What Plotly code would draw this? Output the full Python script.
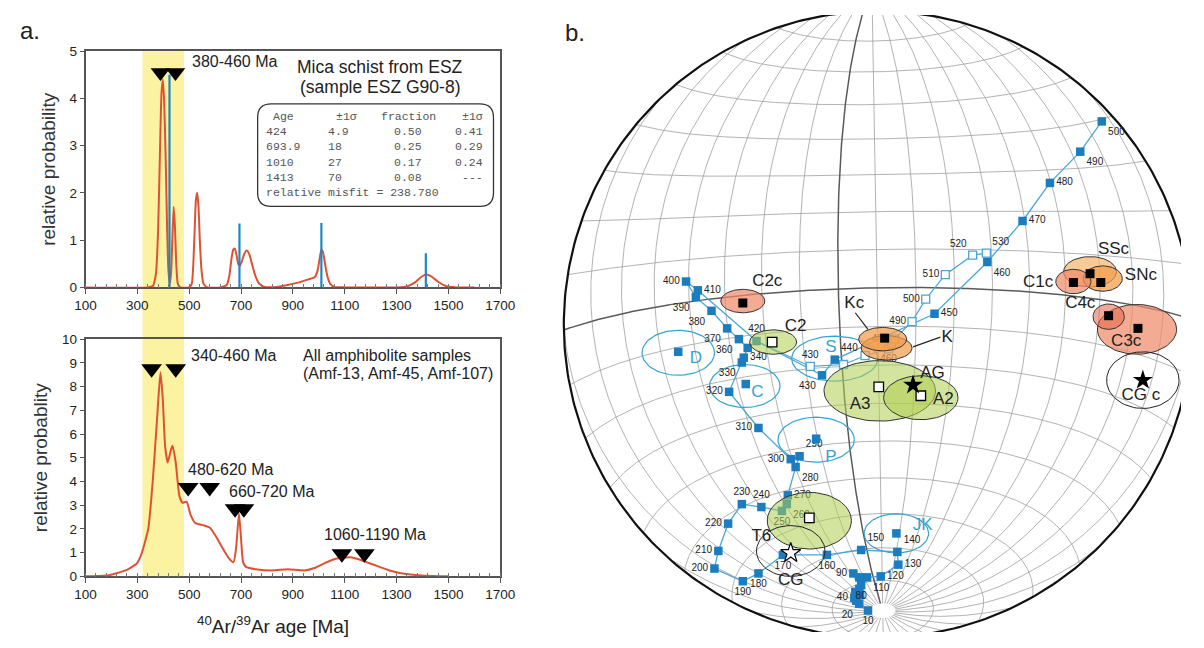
import numpy as np
import plotly.graph_objects as go

FONT = "Liberation Sans, Arial, sans-serif"
MONO = "Liberation Mono, Courier New, monospace"

# ---------------- panel a, top: mica schist ----------------
mica_age = [100, 340, 360, 372, 380, 387, 393, 398, 403, 409, 415, 420, 425, 430, 435, 440, 445, 450, 456, 465,
            500, 510, 516, 521, 526, 531, 536, 541, 547, 555, 570, 620, 645, 655, 663, 670, 676, 682, 689, 695,
            703, 712, 722, 732, 742, 755, 770, 790, 840, 880, 920, 960, 985, 995, 1003, 1010, 1016, 1024, 1034,
            1045, 1060, 1100, 1300, 1340, 1370, 1395, 1415, 1435, 1460, 1490, 1530, 1600]
mica_prob = [0, 0, 0.03, 0.3, 1.2, 2.8, 4.1, 4.4, 4.0, 2.8, 1.2, 0.35, 0.08, 0.3, 1.0, 1.7, 1.3, 0.5, 0.08, 0,
             0, 0.08, 0.5, 1.2, 1.85, 2.0, 1.7, 1.0, 0.4, 0.08, 0, 0, 0.05, 0.25, 0.6, 0.8, 0.82, 0.7, 0.5, 0.45,
             0.55, 0.7, 0.78, 0.7, 0.5, 0.25, 0.08, 0.01, 0.01, 0.05, 0.1, 0.17, 0.22, 0.35, 0.6, 0.8, 0.75, 0.5,
             0.22, 0.07, 0.01, 0, 0, 0.02, 0.1, 0.22, 0.27, 0.23, 0.12, 0.03, 0, 0]
mix_age = [424, 693.9, 1010, 1413]
mix_prob = [4.5, 1.35, 1.36, 0.72]
tab_age = ["424", "693.9", "1010", "1413"]
tab_err = ["4.9", "18", "27", "70"]
tab_frac = ["0.50", "0.25", "0.17", "0.08"]
tab_frac_err = ["0.41", "0.29", "0.24", "---"]
misfit = "238.780"
mica_tri_age = [389, 447]
mica_tri_level = [4.55, 4.55]

# ---------------- panel a, bottom: amphibolites ----------------
amph_age = [100, 190, 254, 297, 316, 342, 360, 377, 389, 398, 407, 417, 430, 436, 448, 462, 474, 490, 505, 523,
            556, 580, 605, 631, 654, 671, 681, 692, 700, 708, 719, 757, 820, 881, 945, 983, 1021, 1070, 1122,
            1172, 1222, 1273, 1323, 1398, 1500]
amph_prob = [0.0, 0.05, 0.25, 0.53, 0.95, 2.0, 4.1, 6.8, 8.6, 7.5, 5.5, 4.8, 5.35, 5.5, 4.8, 3.4, 3.1, 3.15, 2.6,
             2.25, 2.15, 2.05, 1.65, 1.15, 0.75, 0.6, 1.2, 2.65, 1.6, 0.6, 0.4, 0.3, 0.25, 0.3, 0.25, 0.35, 0.55,
             0.75, 0.8, 0.65, 0.45, 0.25, 0.12, 0.04, 0.0]
amph_tri_age = [355, 448, 496, 579, 677, 711, 1089, 1176]
amph_tri_level = [8.75, 8.75, 3.75, 3.75, 2.85, 2.85, 0.95, 0.95]
amph_range_text = ["340-460 Ma", "480-620 Ma", "660-720 Ma", "1060-1190 Ma"]
amph_range_x = [500, 489, 647, 1013]
amph_range_y = [9.3, 4.49, 3.58, 1.77]
band = [320, 480]

# ---------------- panel b: projected poles (net radius = 321 units, centre = 0,0) ----------------
R_NET = 321
PHI0 = 9.5     # latitude of projection centre
ROLL = 1.0

apwp_age = list(range(10, 510, 10))
apwp_x = [-10, -19, -22, -24, -18, -23, -19, -17, -25, -19, -11, 3, 21, 20, -17, -52, -97, -122, -138, -167,
          -163, -153, -139, -119, -98, -93, -92, -84, -80, -89, -122, -152, -139, -137, -133, -142, -154, -170,
          -186, -196, -184, -124, -57, -44, 58, 112, 148, 176, 207, 229]
apwp_y = [-293, -286, -283, -280, -277, -274, -271, -267, -255, -259, -259, -258, -246, -233, -231, -236, -236,
          -255, -263, -250, -232, -204, -184, -187, -191, -184, -175, -146, -135, -138, -106, -69, -39, -34, -24,
          -15, -4, 14, 28, 44, 35, -17, -52, -36, 11, 64, 106, 145, 177, 208]
apwp_hidden = {30, 50, 60, 70, 100, 350}
apwp_pos = {10: 'bottom center', 20: 'bottom left', 40: 'middle left', 80: 'bottom center', 90: 'middle left',
            110: 'bottom right', 120: 'middle right', 130: 'middle right', 140: 'top right', 150: 'top right',
            160: 'bottom center', 170: 'bottom center', 180: 'bottom center', 190: 'bottom center',
            200: 'middle left', 210: 'middle left', 220: 'middle left', 230: 'top center', 240: 'top center',
            250: 'bottom center', 260: 'bottom right', 270: 'middle right', 280: 'bottom right', 290: 'top right',
            300: 'middle left', 310: 'middle left', 320: 'middle left', 330: 'bottom left', 340: 'middle right',
            360: 'bottom left', 370: 'bottom left', 380: 'bottom left', 390: 'bottom left', 400: 'middle left',
            410: 'middle right', 420: 'top center', 430: 'bottom left', 440: 'top right', 450: 'middle right',
            460: 'bottom right', 470: 'middle right', 480: 'middle right', 490: 'bottom right', 500: 'bottom right'}

alt_age = [420, 430, 440, 450, 460, 470, 480, 490, 500, 510, 520, 530]
alt_x = [-124, -69, -35, -13, 11, 14, 17, 35, 49, 69, 97, 111]
alt_y = [-17, -43, -41, -32, -25, -20, -15, 3, 26, 51, 71, 73]
alt_shown = {430: 'top center', 460: 'bottom center', 480: 'middle left', 490: 'middle left', 500: 'middle left',
             510: 'middle left', 520: 'top left', 530: 'top right'}

ell_name = ['D', 'C', 'S', 'P', 'JK', 'SSc', 'SNc', 'C1c', 'C3c', 'C4c', 'K', 'Kc', 'C2c', 'C2', 'A3', 'A2',
            'T6', 'CGc', 'CG']
ell_x = [-204, -136, -44, -63, 19, 217, 230, 200, 265, 236, 9, 5, -138, -107, 2, 44, -70, 271, -89]
ell_y = [-29, -63, -35, -118, -214, 54, 47, 44, -5, 8, -24, -15, 24, -18, -68, -75, -201, -57, -232]
ell_a = [37, 36, 44, 39, 33, 27, 20, 18, 40.5, 16, 26, 24.5, 22.5, 24, 57, 38, 43, 37, 35]
ell_b = [23, 22, 23, 23, 20, 15.5, 13, 12.5, 25.5, 13, 12.5, 12, 12, 12.5, 31, 22.5, 29, 29, 26]
ell_kind = ['blue'] * 5 + ['lorange', 'orange', 'salmon', 'salmon', 'dsalmon', 'orange', 'orange', 'salmon',
                           'green', 'green', 'green', 'green', 'black', 'black']

mean_black_x = [-138, 7, 200, 217, 228, 236, 266]
mean_black_y = [22, -14, 43, 52, 43, 9, -4]
mean_white_x = [-108, 1, 44, -70]
mean_white_y = [-18, -64, -73, -198]
mean_blue_x = [-204, -135, -63, 19]
mean_blue_y = [-28, -61, -117, -214]
star_black_x = [36, 271]
star_black_y = [-62, -57]
star_white_x = [-89]
star_white_y = [-234]

lab_text = ['C2c', 'C2', 'Kc', 'K', 'A3', 'A2', 'AG', 'C1c', 'SSc', 'SNc', 'C4c', 'C3c', 'CG c', 'T6', 'CG']
lab_x = [-113, -84, -24, 71, -18, 67, 56, 164, 241, 269, 207, 254, 269, -119, -89]
lab_y = [44, -2, 21, -14, -82, -77, -50, 43, 77, 50, 21, -18, -73, -217, -263]
blab_text = ['D', 'C', 'S', 'P', 'JK']
blab_x = [-186, -123, -48, -48, 46]
blab_y = [-35, -70, -24, -137, -206]
leader_x = [-23, -10, None, 64, 36]
leader_y = [12, -5, None, -13, -23]

# ---------------- colours ----------------
RED = '#de5233'
BARBLUE = '#1f86c6'
SQ = '#1b7dbf'
PATH = '#4aa6d6'
LBLUE = '#35a3d3'
KIND = {
    'blue': (None, LBLUE),
    'green': ('rgba(175,205,80,0.55)', '#333'),
    'salmon': ('rgba(240,138,105,0.72)', '#333'),
    'dsalmon': ('rgba(228,100,72,0.55)', '#333'),
    'orange': ('rgba(243,155,75,0.72)', '#333'),
    'lorange': ('rgba(246,185,115,0.75)', '#333'),
    'black': (None, '#222'),
}

fig = go.Figure()

# ---- top panel ----
fig.add_trace(go.Scatter(x=mica_age, y=mica_prob, mode='lines', xaxis='x', yaxis='y',
                         line=dict(color=RED, width=2, shape='spline', smoothing=0.5)))
bx, by = [], []
for a, p in zip(mix_age, mix_prob):
    bx += [a, a, None]
    by += [0, p, None]
fig.add_trace(go.Scatter(x=bx, y=by, mode='lines', xaxis='x', yaxis='y',
                         line=dict(color=BARBLUE, width=2.2)))
fig.add_trace(go.Scatter(x=mica_tri_age, y=mica_tri_level, mode='markers', xaxis='x', yaxis='y',
                         marker=dict(symbol='triangle-down', size=17, color='black')))

# ---- bottom panel ----
fig.add_trace(go.Scatter(x=amph_age, y=amph_prob, mode='lines', xaxis='x3', yaxis='y3',
                         line=dict(color=RED, width=2, shape='spline', smoothing=0.5)))
fig.add_trace(go.Scatter(x=amph_tri_age, y=amph_tri_level, mode='markers', xaxis='x3', yaxis='y3',
                         marker=dict(symbol='triangle-down', size=18, color='black')))


# ---- stereonet graticule (Lambert azimuthal equal-area, north pole toward bottom) ----
def project(lat_deg, dlon_deg):
    lat = np.radians(lat_deg)
    dl = np.radians(dlon_deg)
    p0 = np.radians(PHI0)
    cosc = np.sin(p0) * np.sin(lat) + np.cos(p0) * np.cos(lat) * np.cos(dl)
    k = np.sqrt(2 / np.maximum(1 + cosc, 1e-9))
    x = k * np.cos(lat) * np.sin(dl)
    y = k * (np.cos(p0) * np.sin(lat) - np.sin(p0) * np.cos(lat) * np.cos(dl))
    X = -x * R_NET / np.sqrt(2)
    Y = -y * R_NET / np.sqrt(2)
    a = np.radians(ROLL)
    Xr = X * np.cos(a) - Y * np.sin(a)
    Yr = X * np.sin(a) + Y * np.cos(a)
    vis = cosc >= -1e-6
    return np.where(vis, Xr, np.nan), np.where(vis, Yr, np.nan)


gx, gy = [], []
for dl in range(-180, 180, 10):
    if dl == 10:
        continue
    lats = np.linspace(-90, 87.5, 300)
    X, Y = project(lats, np.full_like(lats, dl))
    gx += list(X) + [np.nan]
    gy += list(Y) + [np.nan]
for lat in range(-80, 90, 10):
    if lat == 0:
        continue
    dls = np.linspace(-180, 180, 721)
    X, Y = project(np.full_like(dls, lat), dls)
    gx += list(X) + [np.nan]
    gy += list(Y) + [np.nan]
fig.add_trace(go.Scatter(x=gx, y=gy, mode='lines', xaxis='x2', yaxis='y2',
                         line=dict(color='#a0a0a0', width=0.8)))
dx_, dy_ = [], []
lats = np.linspace(-90, 87.5, 300)
X, Y = project(lats, np.full_like(lats, 10.0))
dx_ += list(X) + [np.nan]
dy_ += list(Y) + [np.nan]
dls = np.linspace(-180, 180, 721)
X, Y = project(np.zeros_like(dls), dls)
dx_ += list(X)
dy_ += list(Y)
fig.add_trace(go.Scatter(x=dx_, y=dy_, mode='lines', xaxis='x2', yaxis='y2',
                         line=dict(color='#5a5a5a', width=1.5)))
t = np.linspace(0, 2 * np.pi, 361)
fig.add_trace(go.Scatter(x=R_NET * np.cos(t), y=R_NET * np.sin(t), mode='lines', xaxis='x2', yaxis='y2',
                         line=dict(color='#111', width=2.2)))


def add_ellipses(kinds):
    tt = np.linspace(0, 2 * np.pi, 73)
    for n, cx, cy, a, b, kd in zip(ell_name, ell_x, ell_y, ell_a, ell_b, ell_kind):
        if kd not in kinds:
            continue
        fillc, linec = KIND[kd]
        fig.add_trace(go.Scatter(x=cx + a * np.cos(tt), y=cy + b * np.sin(tt), mode='lines',
                                 xaxis='x2', yaxis='y2', fill='toself' if fillc else 'none',
                                 fillcolor=fillc, line=dict(color=linec, width=1.2 if kd == 'blue' else 1)))


add_ellipses({'blue'})

# APWP paths
fig.add_trace(go.Scatter(x=alt_x, y=alt_y, mode='lines', xaxis='x2', yaxis='y2',
                         line=dict(color=PATH, width=1.2)))
fig.add_trace(go.Scatter(x=apwp_x, y=apwp_y, mode='lines', xaxis='x2', yaxis='y2',
                         line=dict(color=PATH, width=1.3)))
fig.add_trace(go.Scatter(x=alt_x[1:], y=alt_y[1:], mode='markers+text', xaxis='x2', yaxis='y2',
                         marker=dict(symbol='square', size=8, color='white', line=dict(color=PATH, width=1.3)),
                         text=[str(a) if a in alt_shown else '' for a in alt_age[1:]],
                         textposition=[alt_shown.get(a, 'middle right') for a in alt_age[1:]],
                         textfont=dict(family=FONT, size=10, color='#222')))
fig.add_trace(go.Scatter(x=apwp_x, y=apwp_y, mode='markers+text', xaxis='x2', yaxis='y2',
                         marker=dict(symbol='square', size=8.5, color=SQ),
                         text=['' if a in apwp_hidden else str(a) for a in apwp_age],
                         textposition=[apwp_pos.get(a, 'middle right') for a in apwp_age],
                         textfont=dict(family=FONT, size=10, color='#222')))
fig.add_trace(go.Scatter(x=mean_blue_x, y=mean_blue_y, mode='markers', xaxis='x2', yaxis='y2',
                         marker=dict(symbol='square', size=8.5, color=SQ)))

add_ellipses({'lorange', 'orange', 'salmon', 'dsalmon', 'green', 'black'})

fig.add_trace(go.Scatter(x=mean_black_x, y=mean_black_y, mode='markers', xaxis='x2', yaxis='y2',
                         marker=dict(symbol='square', size=9, color='black')))
fig.add_trace(go.Scatter(x=mean_white_x, y=mean_white_y, mode='markers', xaxis='x2', yaxis='y2',
                         marker=dict(symbol='square', size=9.5, color='white', line=dict(color='black', width=1.3))))
fig.add_trace(go.Scatter(x=star_black_x, y=star_black_y, mode='markers', xaxis='x2', yaxis='y2',
                         marker=dict(symbol='star', size=15, color='black')))
fig.add_trace(go.Scatter(x=star_white_x, y=star_white_y, mode='markers', xaxis='x2', yaxis='y2',
                         marker=dict(symbol='star', size=15, color='white', line=dict(color='black', width=1.2))))
fig.add_trace(go.Scatter(x=leader_x, y=leader_y, mode='lines', xaxis='x2', yaxis='y2',
                         line=dict(color='#222', width=1.2)))
fig.add_trace(go.Scatter(x=lab_x, y=lab_y, mode='text', xaxis='x2', yaxis='y2', text=lab_text,
                         textfont=dict(family=FONT, size=17, color='#222')))
fig.add_trace(go.Scatter(x=blab_x, y=blab_y, mode='text', xaxis='x2', yaxis='y2', text=blab_text,
                         textfont=dict(family=FONT, size=17, color=LBLUE)))

# ---------------- layout (page body keeps an 8 px margin -> figure is 16 px smaller) ----------------
OFF = 8
W, H = 1204 - 2 * OFF, 648 - 2 * OFF


def px(x):
    return (x - OFF) / W


def py(y):
    return 1 - (y - OFF) / H


xl, xr = px(76), px(500)
top_dom = [py(287), py(45)]
bot_dom = [py(583), py(340)]

xcommon = dict(range=[100, 1700], tickvals=list(range(100, 1701, 200)), ticks='outside', ticklen=5,
               tickcolor='#555', showline=True, linecolor='#555', linewidth=1.5, mirror=True, showgrid=False,
               zeroline=False, tickfont=dict(family=FONT, size=13.5, color='#222'),
               minor=dict(dtick=40, tick0=100, ticks='inside', ticklen=4, tickcolor='#777'))
ycommon = dict(dtick=1, ticks='outside', ticklen=4, tickcolor='#555', showline=True, linecolor='#555',
               linewidth=1.5, mirror=True, showgrid=False, zeroline=False,
               tickfont=dict(family=FONT, size=13.5, color='#222'))

fig.update_layout(
    width=W, height=H, margin=dict(l=0, r=0, t=0, b=0), autosize=False,
    paper_bgcolor='white', plot_bgcolor='rgba(0,0,0,0)', showlegend=False, hovermode=False,
    xaxis=dict(domain=[xl, xr], anchor='y', **xcommon),
    yaxis=dict(domain=top_dom, anchor='x', range=[0, 5],
               title=dict(text='relative probability', standoff=9, font=dict(family=FONT, size=19, color='#333')),
               **ycommon),
    xaxis3=dict(domain=[xl, xr], anchor='y3', **xcommon),
    yaxis3=dict(domain=bot_dom, anchor='x3', range=[0, 10],
                title=dict(text='relative probablity', standoff=9, font=dict(family=FONT, size=19, color='#333')),
                **ycommon),
    xaxis2=dict(domain=[px(560), 1], anchor='y2', range=[560 - 886, (1204 - OFF) - 886], visible=False),
    yaxis2=dict(domain=[0, 1], anchor='x2', range=[325 - (648 - OFF), 325 - OFF], visible=False),
)

# yellow band spanning both panels
fig.add_shape(type='rect', xref='x', yref='paper', x0=band[0], x1=band[1], y0=bot_dom[0], y1=top_dom[1],
              fillcolor='#fcf3a2', line=dict(width=0), layer='below')

# rounded table box
x0b, x1b, y0b, y1b, rx, ry = 764, 1674, 1.715, 3.884, 53, 0.29
box = (f"M {x0b + rx},{y1b} L {x1b - rx},{y1b} Q {x1b},{y1b} {x1b},{y1b - ry} L {x1b},{y0b + ry} "
       f"Q {x1b},{y0b} {x1b - rx},{y0b} L {x0b + rx},{y0b} Q {x0b},{y0b} {x0b},{y0b + ry} "
       f"L {x0b},{y1b - ry} Q {x0b},{y1b} {x0b + rx},{y1b} Z")
fig.add_shape(type='path', path=box, xref='x', yref='y', line=dict(color='#333', width=1.3))

ann = []


def text(x, y, s, size, xref='x', yref='y', xanchor='center', color='#222', family=FONT):
    ann.append(dict(x=x, y=y, xref=xref, yref=yref, text=s, showarrow=False, xanchor=xanchor,
                    yanchor='middle', font=dict(family=family, size=size, color=color)))


text(504, 4.79, '380-460 Ma', 16, xanchor='left')
text(1236, 4.67, 'Mica schist from ESZ', 17.5)
text(1236, 4.24, '(sample ESZ G90-8)', 17.5)

row_y = [3.616 - i * 0.3225 for i in range(6)]
text(817, row_y[0], 'Age', 11.5, xanchor='left', color='#555', family=MONO)
text(1058, row_y[0], '±1σ', 11.5, xanchor='left', color='#555', family=MONO)
text(1345, row_y[0], 'fraction', 11.5, color='#555', family=MONO)
text(1640, row_y[0], '±1σ', 11.5, xanchor='right', color='#555', family=MONO)
for i in range(4):
    text(790, row_y[i + 1], tab_age[i], 11.5, xanchor='left', color='#555', family=MONO)
    text(1028, row_y[i + 1], tab_err[i], 11.5, xanchor='left', color='#555', family=MONO)
    text(1345, row_y[i + 1], tab_frac[i], 11.5, color='#555', family=MONO)
    text(1640, row_y[i + 1], tab_frac_err[i], 11.5, xanchor='right', color='#555', family=MONO)
text(790, row_y[5], 'relative misfit = ' + misfit, 11.5, xanchor='left', color='#555', family=MONO)

for s, x, y in zip(amph_range_text, amph_range_x, amph_range_y):
    ann.append(dict(x=x, y=y, xref='x3', yref='y3', text=s, showarrow=False, xanchor='left', yanchor='middle',
                    font=dict(family=FONT, size=16, color='#222')))
for s, x, y in [('All amphibolite samples', 1262, 9.30), ('(Amf-13, Amf-45, Amf-107)', 1304, 8.56)]:
    ann.append(dict(x=x, y=y, xref='x3', yref='y3', text=s, showarrow=False, xanchor='center', yanchor='middle',
                    font=dict(family=FONT, size=16, color='#222')))

text(px(268), py(633), '<sup>40</sup>Ar/<sup>39</sup>Ar age [Ma]', 19, xref='paper', yref='paper', color='#222')
text(px(19), py(24), 'a.', 24, xref='paper', yref='paper', color='#222')
text(px(576), py(26), 'b.', 24, xref='paper', yref='paper', color='#222')

fig.update_layout(annotations=ann)

fig.write_html("out.html", config={'displayModeBar': False})
